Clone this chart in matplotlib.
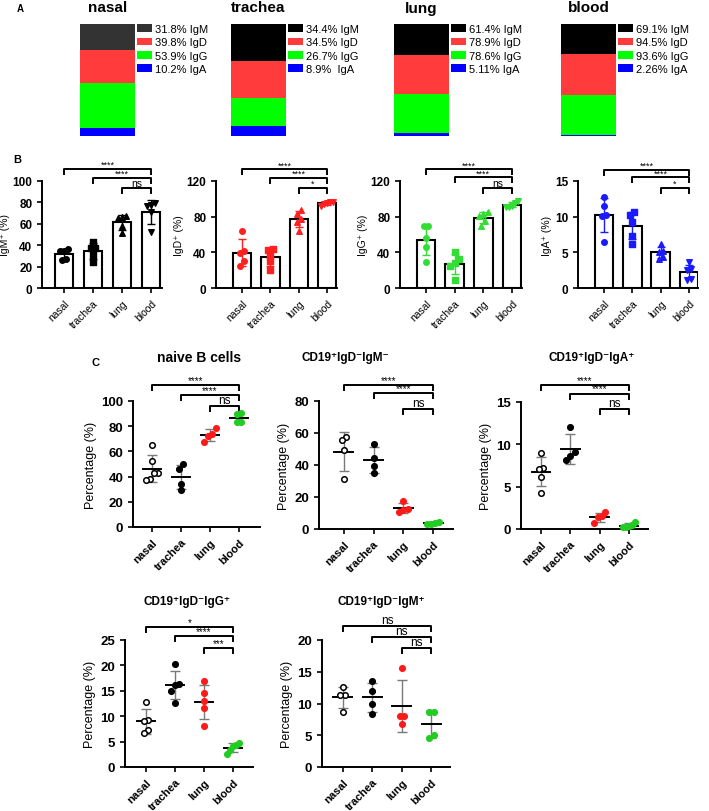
import matplotlib.pyplot as plt
from matplotlib.patches import Patch
import numpy as np

plt.rcParams['font.family'] = ['Liberation Sans', 'DejaVu Sans']

W, H = 709, 812

tissues = ["nasal", "trachea", "lung", "blood"]
isotypes = ["IgM", "IgD", "IgG", "IgA"]

# panel A: percent of B cells per isotype
a_nasal = [31.8, 39.8, 53.9, 10.2]
a_trachea = [34.4, 34.5, 26.7, 8.9]
a_lung = [61.4, 78.9, 78.6, 5.11]
a_blood = [69.1, 94.5, 93.6, 2.26]

# panel B: per-mouse values (nasal, trachea, lung, blood)
b_igm = [[36, 35, 35, 27, 26], [43, 37, 37, 31, 24], [67, 66, 65, 58, 51], [79, 78, 77, 71, 52]]
b_igd = [[64, 41, 39, 30, 25], [44, 43, 36, 30, 20], [88, 83, 77, 74, 64], [97, 96, 95, 94, 92]]
b_igg = [[70, 69, 56, 46, 29], [40, 32, 28, 25, 9], [85, 83, 81, 75, 70], [98, 95, 92, 91, 91]]
b_iga = [[12.8, 11.5, 10.2, 10.1, 6.5], [10.6, 10.3, 9.3, 7.3, 6.2], [6.2, 5.2, 5.1, 4.3, 4.1], [3.6, 2.7, 2.5, 1.3, 1.1]]

# panel C: percentage of B cell subsets
c_naive = [[65, 52, 43, 42.5, 38, 37], [50, 46, 34.5, 29.5], [78.3, 73.6, 72.3, 67.4], [90.3, 89.8, 83.5, 83.5]]
c_igm_neg = [[57.5, 55.5, 49.5, 31], [53.4, 44.6, 39.4, 35], [17.2, 12.6, 12.1, 10.5], [4.6, 3.8, 3.4, 3.1]]
c_iga_pos = [[9.0, 7.25, 7.05, 6.1, 4.3], [12.1, 9.1, 8.6, 8.1], [1.96, 1.5, 1.4, 0.7], [0.8, 0.5, 0.3, 0.25, 0.2]]
c_igg_pos = [[12.8, 9.2, 9.0, 7.2, 6.7], [20.3, 16.4, 16.2, 15.0, 12.6], [17.0, 14.5, 12.9, 11.6, 8.0], [4.8, 4.25, 4.1, 3.4, 2.6]]
c_igm_pos = [[12.6, 11.4, 11.3, 8.6], [13.6, 11.9, 10.0, 8.4], [15.6, 8.1, 8.1, 6.7], [8.7, 8.6, 5.1, 4.6]]

fig = plt.figure(figsize=(W / 100, H / 100), dpi=100)


def px_axes(l, t, r, b):
    return fig.add_axes([l / W, 1 - b / H, (r - l) / W, (b - t) / H])


def spread(vals, yrange, step, wmax=0.2):
    # simple beeswarm: values close together are pushed sideways
    vals = np.asarray(vals, float)
    order = np.argsort(vals)
    offs = np.zeros(len(vals))
    groups, cur = [], [order[0]]
    for i in order[1:]:
        if abs(vals[i] - vals[cur[-1]]) < 0.05 * yrange:
            cur.append(i)
        else:
            groups.append(cur)
            cur = [i]
    groups.append(cur)
    for g in groups:
        n = len(g)
        if n == 1:
            continue
        w = min(wmax, (n - 1) / 2 * step)
        for k, i in enumerate(g):
            offs[i] = -w + 2 * w * k / (n - 1)
    return offs


def bracket(ax, x1, x2, y, txt, leg, fs):
    ax.plot([x1, x1, x2, x2], [y - leg, y, y, y - leg], color='black', lw=1.4, clip_on=False)
    ax.text((x1 + x2) / 2, y, txt, ha='center', va='bottom', fontsize=fs, clip_on=False)


def style_axes(ax, ymax, yticks, xlim, rot_bold):
    for s in ['top', 'right']:
        ax.spines[s].set_visible(False)
    for s in ['left', 'bottom']:
        ax.spines[s].set_linewidth(1.4)
    ax.set_ylim(0, ymax)
    ax.set_xlim(*xlim)
    ax.set_yticks(yticks)
    ax.set_xticks(range(4))
    ax.tick_params(width=1.2, length=3.5)
    ax.set_xticklabels(tissues, rotation=45, ha='right', rotation_mode='anchor',
                       fontsize=8 if rot_bold else 7.5, fontweight='bold' if rot_bold else 'normal')
    for lb in ax.get_yticklabels():
        lb.set_fontweight('bold')


# ---------------- panel A ----------------
fig.text(20 / W, 1 - 9 / H, "A", fontsize=7, fontweight='bold', ha='center', va='center')
a_sets = [a_nasal, a_trachea, a_lung, a_blood]
a_left = [80, 231, 394, 561]
a_cols = ['#000000', '#ff3b3b', '#00ff00', '#0000ff']
for k, vals in enumerate(a_sets):
    ax = px_axes(a_left[k], 25, a_left[k] + 55, 137)
    frac = np.array(vals) / sum(vals)
    cols = list(a_cols)
    if k == 0:
        cols[0] = '#333333'
    bottom = 0
    for j in [3, 2, 1, 0]:
        ax.bar(0, frac[j], bottom=bottom, width=1, color=cols[j])
        bottom += frac[j]
    ax.set_xlim(-0.5, 0.5)
    ax.set_ylim(0, 1)
    ax.axis('off')
    ax.set_title(tissues[k], fontsize=11, fontweight='bold', pad=9)
    handles = [Patch(facecolor=cols[j]) for j in range(4)]
    labels = [f"{vals[j]}%  {isotypes[j]}" if j == 3 and k == 1 else f"{vals[j]}% {isotypes[j]}"
              for j in range(4)]
    ax.legend(handles, labels, loc='upper left', bbox_to_anchor=(1.04, 1.0), frameon=False,
              fontsize=8, handlelength=1.3, handleheight=0.7, handletextpad=0.3,
              labelspacing=0.3, borderaxespad=0, borderpad=0)

# ---------------- panel B ----------------
fig.text(17 / W, 1 - 160 / H, "B", fontsize=8, fontweight='bold', ha='center', va='center')
b_sets = [b_igm, b_igd, b_igg, b_iga]
b_names = ["IgM⁺ (%)", "IgD⁺ (%)", "IgG⁺ (%)", "IgA⁺ (%)"]
b_cols = ['#000000', '#ff2020', '#33dd33', '#1a1aff']
b_ymax = [100, 120, 120, 15]
b_ticks = [[0, 20, 40, 60, 80, 100], [0, 40, 80, 120], [0, 40, 80, 120], [0, 5, 10, 15]]
b_box = [(42, 162, -0.76, 3.38), (216, 337, -0.92, 3.35), (400, 522, -0.9, 3.35), (578, 698, -0.92, 3.32)]
b_brk = [[111, 103, 93.8], [133, 123.7, 112.6], [133, 124, 112.6], [16.6, 15.5, 14.07]]
b_txt = [["****", "****", "ns"], ["****", "****", "*"], ["****", "****", "ns"], ["****", "****", "*"]]
markers = ['o', 's', '^', 'v']
for k, data in enumerate(b_sets):
    l, r, x0, x1 = b_box[k]
    ax = px_axes(l, 182, r, 289)
    style_axes(ax, b_ymax[k], b_ticks[k], (x0, x1), False)
    for lb in ax.get_yticklabels():
        lb.set_fontsize(8.5)
    means = [np.mean(d) for d in data]
    sds = [np.std(d, ddof=1) for d in data]
    ax.bar(range(4), means, width=0.65, facecolor='white', edgecolor='black', lw=1.5, zorder=1)
    ax.errorbar(range(4), means, yerr=sds, fmt='none', ecolor=b_cols[k], elinewidth=1,
                capsize=3, capthick=1, zorder=2)
    for i, d in enumerate(data):
        offs = spread(d, b_ymax[k], 0.15)
        ax.scatter(i + offs, d, marker=markers[i], s=16, color=b_cols[k], zorder=3, clip_on=False)
    ax.set_ylabel(b_names[k], fontsize=7.5, labelpad=2)
    leg = 5 * b_ymax[k] / 107
    for j, (yb, t) in enumerate(zip(b_brk[k], b_txt[k])):
        bracket(ax, j, 3, yb, t, leg, 6.5 if t != "ns" else 7.5)

# ---------------- panel C ----------------
fig.text(95 / W, 1 - 363 / H, "C", fontsize=8, fontweight='bold', ha='center', va='center')
c_sets = [c_naive, c_igm_neg, c_iga_pos, c_igg_pos, c_igm_pos]
c_titles = ["naive B cells", "CD19⁺IgD⁻IgM⁻", "CD19⁺IgD⁻IgA⁺", "CD19⁺IgD⁻IgG⁺", "CD19⁺IgD⁻IgM⁺"]
c_title_pos = [(199, 358), (345, 358), (592, 358), (187, 602), (381, 602)]
c_title_fs = [10, 8.5, 8.5, 8.5, 8.5]
c_ymax = [100, 80, 15, 25, 20]
c_ticks = [[0, 20, 40, 60, 80, 100], [0, 20, 40, 60, 80], [0, 5, 10, 15], [0, 5, 10, 15, 20, 25], [0, 5, 10, 15, 20]]
c_box = [(133, 402, 260, 528, -0.65, 3.72), (319, 402, 453, 530, -0.84, 3.67),
         (521, 403, 648, 530, -0.68, 3.65), (125, 641, 253, 768, -0.72, 3.69),
         (322, 641, 450, 768, -0.7, 3.63)]
c_brk = [[112.5, 104.4, 95.8], [90, 84.8, 75], [17, 16, 14.2], [27.5, 25.7, 23.4], [22.25, 20.4, 18.7]]
c_txt = [["****", "****", "ns"], ["****", "****", "ns"], ["****", "****", "ns"],
         ["*", "****", "***"], ["ns", "ns", "ns"]]
c_face = ['white', 'black', '#ff1a1a', '#22cc22']
c_edge = ['black', 'black', '#ff1a1a', '#22cc22']
for k, data in enumerate(c_sets):
    l, t, r, b, x0, x1 = c_box[k]
    ax = px_axes(l, t, r, b)
    style_axes(ax, c_ymax[k], c_ticks[k], (x0, x1), True)
    for lb in ax.get_yticklabels():
        lb.set_fontsize(9.5)
    for i, d in enumerate(data):
        m = np.mean(d)
        sd = np.std(d, ddof=1)
        ax.errorbar(i, m, yerr=sd, fmt='none', ecolor='#7a7a7a', elinewidth=1, capsize=3.5,
                    capthick=1, zorder=1)
        ax.plot([i - 0.32, i + 0.32], [m, m], color='black', lw=1.4, zorder=2)
        offs = spread(d, c_ymax[k], 0.15)
        ax.scatter(i + offs, d, s=16, facecolor=c_face[i], edgecolor=c_edge[i], linewidth=1.1,
                   zorder=3, clip_on=False)
    ax.set_ylabel("Percentage (%)", fontsize=9, labelpad=3)
    leg = 5 * c_ymax[k] / (b - t)
    for j, (yb, tt) in enumerate(zip(c_brk[k], c_txt[k])):
        bracket(ax, j, 3, yb, tt, leg, 7 if tt != "ns" else 8.5)
    tx, ty = c_title_pos[k]
    fig.text(tx / W, 1 - ty / H, c_titles[k], fontsize=c_title_fs[k], fontweight='bold',
             ha='center', va='center')

fig.savefig("out.png", dpi=100)
